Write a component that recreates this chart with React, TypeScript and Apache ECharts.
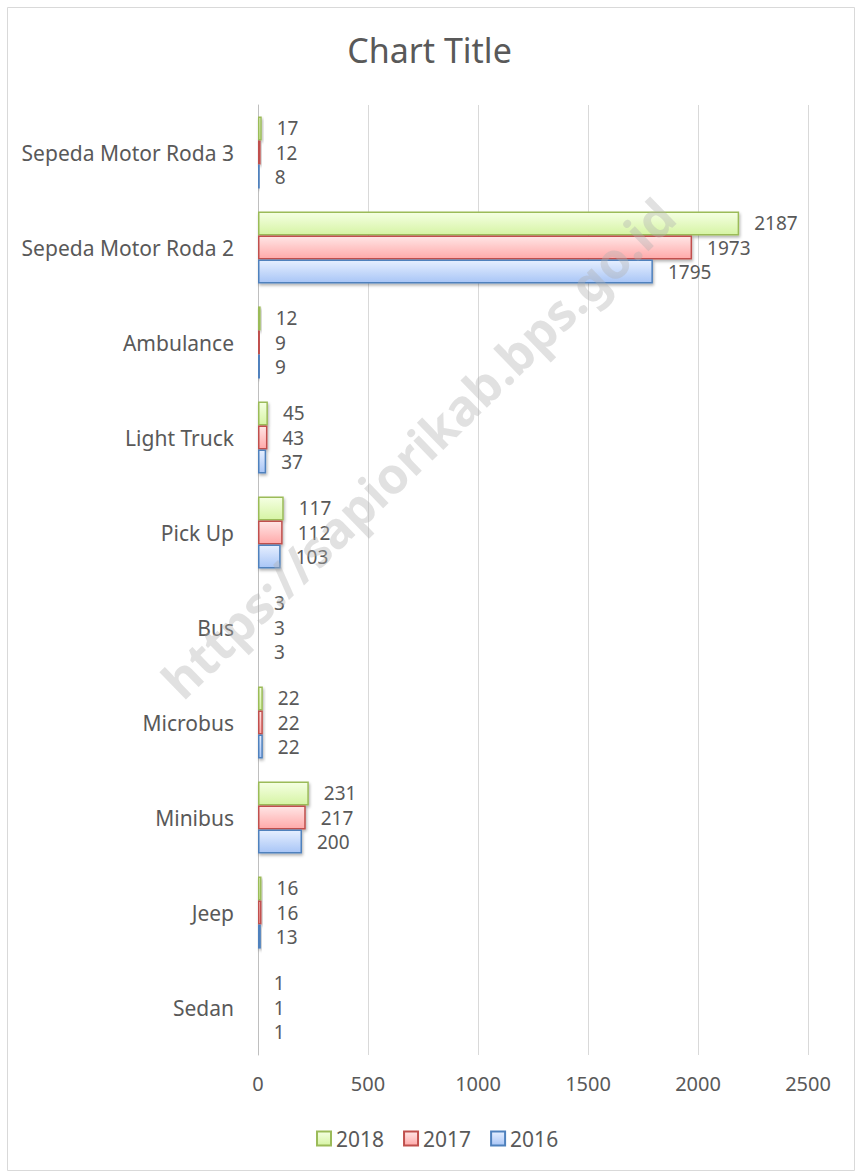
import React, { useEffect, useRef } from "react";
import * as echarts from "echarts";

const categories = ["Sedan", "Jeep", "Minibus", "Microbus", "Bus", "Pick Up", "Light Truck", "Ambulance", "Sepeda Motor Roda 2", "Sepeda Motor Roda 3"];
const values2018 = [1, 16, 231, 22, 3, 117, 45, 12, 2187, 17];
const values2017 = [1, 16, 217, 22, 3, 112, 43, 9, 1973, 12];
const values2016 = [1, 13, 200, 22, 3, 103, 37, 9, 1795, 8];
const xTicks = [0, 500, 1000, 1500, 2000, 2500];

const FONT = "Noto Sans";
const GRAY = "#595959";

function grad(top: string, bottom: string) {
  return new echarts.graphic.LinearGradient(0, 0, 0, 1, [
    { offset: 0, color: top },
    { offset: 1, color: bottom },
  ]);
}

const seriesDefs = [
  { name: "2018", data: values2018, top: "#f5ffe3", bottom: "#d6f4a4", border: "#9bbb59" },
  { name: "2017", data: values2017, top: "#ffe6e6", bottom: "#ffa9a9", border: "#c0504d" },
  { name: "2016", data: values2016, top: "#e6efff", bottom: "#a8c5f6", border: "#4f81bd" },
];

export default function App() {
  const ref = useRef<HTMLDivElement>(null);
  useEffect(() => {
    if (!ref.current) return;
    const chart = echarts.init(ref.current, undefined, { renderer: "svg" });
    chart.setOption({
      animation: false,
      backgroundColor: "#ffffff",
      textStyle: { fontFamily: FONT },
      title: {
        text: "Chart Title",
        left: "center",
        top: 28,
        textStyle: { color: GRAY, fontSize: 34, fontWeight: "normal", fontFamily: FONT },
      },
      legend: {
        bottom: 20,
        left: 311,
        itemWidth: 14,
        itemHeight: 14,
        itemGap: 19,
        icon: "rect",
        data: ["2018", "2017", "2016"],
        textStyle: { color: GRAY, fontSize: 21, fontFamily: FONT },
      },
      grid: { left: 258, right: 51, top: 105, bottom: 119 },
      xAxis: {
        type: "value",
        min: 0,
        max: 2500,
        interval: 500,
        axisLine: { show: false },
        axisTick: { show: false },
        splitLine: { lineStyle: { color: "#d9d9d9", width: 1 } },
        axisLabel: {
          color: GRAY,
          fontSize: 20,
          margin: 18,
          fontFamily: FONT,
          customValues: xTicks,
          formatter: (v: number) => String(v),
        },
      },
      yAxis: {
        type: "category",
        data: categories,
        axisTick: { show: false },
        axisLine: { lineStyle: { color: "#bfbfbf" } },
        axisLabel: { color: GRAY, fontSize: 21, margin: 24, fontFamily: FONT },
      },
      series: seriesDefs.map((s) => ({
        name: s.name,
        type: "bar",
        data: s.data,
        barGap: "0%",
        barCategoryGap: "24%",
        itemStyle: {
          color: grad(s.top, s.bottom),
          borderColor: s.border,
          borderWidth: 1.5,
          shadowColor: "rgba(0,0,0,0.3)",
          shadowBlur: 3,
          shadowOffsetX: 1,
          shadowOffsetY: 2,
        },
        label: {
          show: true,
          position: "right",
          distance: 15,
          color: GRAY,
          fontSize: 19,
          lineHeight: 19,
          fontFamily: FONT,
        },
      })),
      graphic: [
        {
          type: "rect",
          left: 5,
          top: 5,
          shape: { width: 847, height: 1163 },
          style: { fill: "none", stroke: "#d9d9d9", lineWidth: 1 },
          silent: true,
        },
        {
          type: "text",
          x: 418,
          y: 448,
          rotation: 0.77,
          z: 100,
          silent: true,
          style: {
            text: "https://sapiorikab.bps.go.id",
            fontSize: 50,
            fontWeight: "bold",
            fontFamily: FONT,
            fill: "rgba(175,175,175,0.38)",
            align: "center",
            verticalAlign: "middle",
          },
        },
      ],
    });
    return () => chart.dispose();
  }, []);
  return <div ref={ref} style={{ position: "absolute", left: 0, top: 0, width: 859, height: 1174 }} />;
}
